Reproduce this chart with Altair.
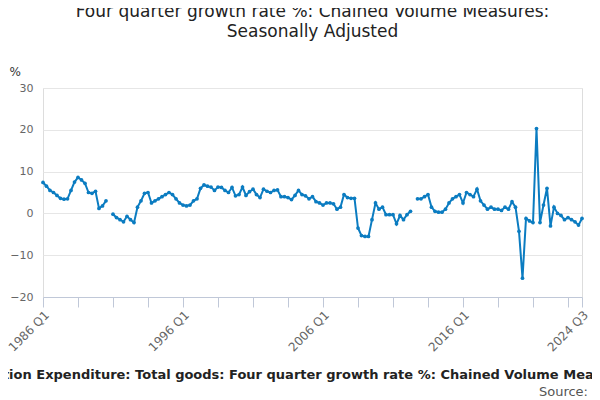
import altair as alt
import pandas as pd

start_year = 1986
values = [
7.4,6.5,5.5,5,4.3,3.6,3.4,3.5,5.5,7.5,8.6,8,7.2,5,4.8,5.3,1.2,1.8,3,
None,
-0.2,-1,-1.5,-2,-0.7,-1.5,-2.2,1.5,3,4.8,5,2.5,3,3.5,4,4.5,5,4.5,3.5,2.5,2,1.8,
2,3,3.5,6,6.8,6.5,6.3,5.5,6.3,6.2,5.5,5,6.2,4.2,4.5,6.3,4.3,5.2,5.8,4.5,3.8,5.8,5.3,5,5.5,5.6,4,4,3.8,3.3,4.3,5.5,4.5,4.2,3.5,4,2.8,2.5,
2,2.5,2.5,2.3,1,1.5,4.5,3.8,3.6,3.6,-3.5,-5.3,-5.5,-5.5,-1.5,2.5,1,1.5,-0.3,-0.3,-0.3,-2.5,-0.5,-1.5,-0.3,0.5,
None,
3.5,3.5,4,4.5,1.5,0.5,0.3,0.3,1,2.5,3.5,4,4.5,2.5,5,4.5,4,5.8,3,2,1,1.5,1,1,0.7,1.5,1,2.8,1.5,-4.3,-15.5,
-1.2,-1.8,-2.2,20.3,-2.2,2,6,-3,1.5,0,-0.5,-1.5,-1,-1.5,-2,-2.8,-1.2,-1.2,1
]
n_total = (2024 - 1986) * 4 + 3
values = (values + [None] * n_total)[:n_total]
labels = [f"{start_year + i // 4} Q{i % 4 + 1}" for i in range(n_total)]
df = pd.DataFrame({"i": list(range(n_total)), "v": values, "q": labels})

blue = "#0b7cc1"
tick_vals = list(range(0, 151, 10)) + [n_total - 1]
label_map = "{" + ",".join(f'"{i}":"{labels[i]}"' for i in [0, 40, 80, 120, n_total - 1]) + "}"

x = alt.X("i:Q", scale=alt.Scale(domain=[0, n_total - 1], nice=False, zero=False),
          axis=alt.Axis(values=tick_vals, grid=False, title=None,
                        labelExpr=f"{label_map}[''+datum.value] || ''",
                        labelAngle=-45, labelAlign="right", labelColor="#666",
                        labelFontSize=12, domainColor="#c0c8d8", tickColor="#c0c8d8",
                        tickSize=10, labelPadding=2))
y = alt.Y("v:Q", scale=alt.Scale(domain=[-20, 30]),
          axis=alt.Axis(values=[-20, -10, 0, 10, 20, 30], title="%", titleAngle=0,
                        titleAlign="left", titleX=-34, titleY=-10, titleFontWeight="normal",
                        titleFontSize=12, titleColor="#333", domain=False, ticks=False,
                        labelColor="#666", labelFontSize=11, gridColor="#e6e6e6", labelPadding=10))

base = alt.Chart(df)
line = base.mark_line(color=blue, strokeWidth=2).encode(x=x, y=y)
pts = base.mark_circle(color=blue, size=14, opacity=1).encode(x=x, y=y)

W, H = 539, 209
foot = alt.Chart(pd.DataFrame({"t": ["Household Final Consumption Expenditure: Total goods: Four quarter growth rate %: Chained Volume Measures: Seasonally Adjusted"]})).mark_text(
    fontWeight="bold", fontSize=13, color="#222", font="DejaVu Sans", baseline="middle").encode(
    text="t:N", x=alt.value(W / 2 - 10), y=alt.value(H + 78))
src = alt.Chart(pd.DataFrame({"t": ["Source:"]})).mark_text(
    fontSize=13, color="#555", align="right", font="DejaVu Sans", baseline="middle").encode(
    text="t:N", x=alt.value(545), y=alt.value(H + 95))

chart = alt.layer(line, pts, foot, src).properties(
    width=W, height=H,
    autosize=alt.AutoSizeParams(type="none"),
    padding={"left": 35, "top": 80, "right": 10, "bottom": 104},
    title=alt.TitleParams(
        ["Household Final Consumption Expenditure: Total goods:",
         "Four quarter growth rate %: Chained Volume Measures:",
         "Seasonally Adjusted"],
        fontSize=17, fontWeight="normal", color="#222", anchor="middle", offset=24,
        font="DejaVu Sans", lineHeight=20)
).configure_view(stroke=None).configure(font="DejaVu Sans")

chart.save("out.html", embed_options={"renderer": "svg", "actions": False})
